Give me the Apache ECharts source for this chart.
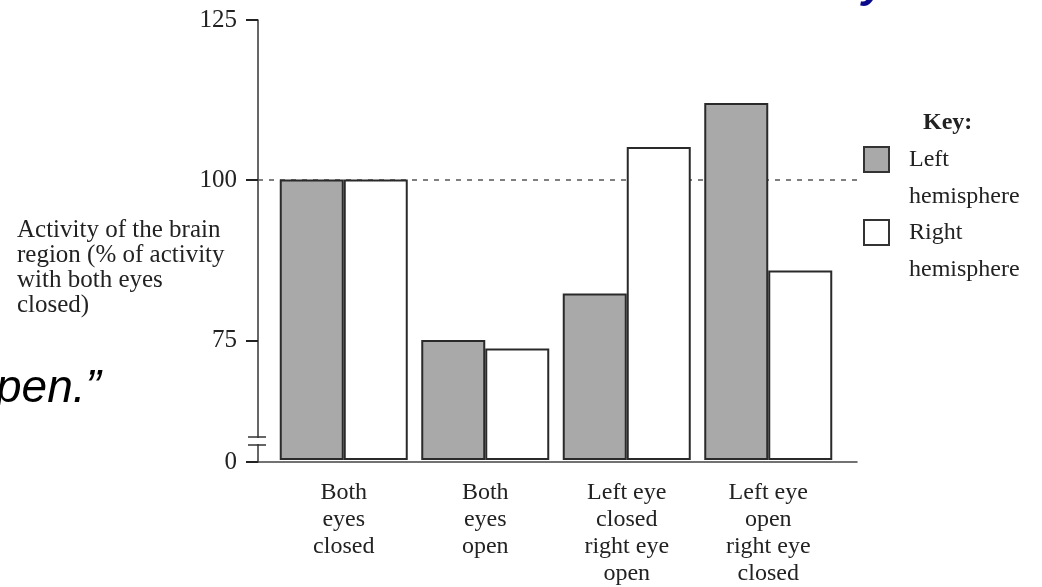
<!DOCTYPE html>
<html>
<head>
<meta charset="utf-8">
<script src="https://cdn.jsdelivr.net/npm/echarts@6/dist/echarts.min.js"></script>
<style>
    html, body { margin: 0; background: #fff; }
    #main { width: 1042px; height: 587px; }
</style>
</head>
<body>
<div id="main"></div>
<script>
    // data
    const categories = ['Both\neyes\nclosed', 'Both\neyes\nopen', 'Left eye\nclosed\nright eye\nopen', 'Left eye\nopen\nright eye\nclosed'];
    const leftHemisphere = [100, 74.8, 82.1, 112];
    const rightHemisphere = [100, 73.5, 105.1, 85.7];
    const yTicks = [56, 75, 100, 125];          // 56 sits at the bottom of the broken axis
    const yTickLabels = ['0', '75', '100', '125'];

    const serif = '"Liberation Serif", "Times New Roman", serif';
    const ink = '#222';
    const gridLeft = 258, gridTop = 20, gridBottom = 125;

    const chart = echarts.init(document.getElementById('main'));
    const option = {
        animation: false,
        title: [{
            text: 'Key:', left: 923, top: 110, padding: 0,
            textStyle: {fontFamily: serif, fontSize: 24, fontWeight: 'bold', color: ink, lineHeight: 26}
        }, {
            text: 'Activity of the brain\nregion (% of activity\nwith both eyes\nclosed)', left: 17, top: 218, padding: 0,
            textStyle: {fontFamily: serif, fontSize: 25, fontWeight: 'normal', color: ink, lineHeight: 25}
        }],
        legend: {
            orient: 'vertical', left: 863, top: 104, padding: 0,
            icon: 'rect', itemWidth: 25, itemHeight: 25, itemGap: -38,
            selectedMode: false,
            itemStyle: {borderColor: '#333', borderWidth: 2},
            // empty first line so the name starts level with the swatch
            formatter: name => '\n' + name.replace(' ', '\n'),
            textStyle: {fontFamily: serif, fontSize: 24, color: ink, lineHeight: 37, padding: [0, 0, 0, 15]},
            data: ['Left hemisphere', 'Right hemisphere']
        },
        grid: [
            // axis frame: y axis, baseline and the 100 reference line
            {left: gridLeft, right: 185, top: gridTop, bottom: gridBottom},
            // bars
            {left: 273, right: 203, top: gridTop, bottom: gridBottom}
        ],
        xAxis: [{
            type: 'category', gridIndex: 0, data: categories,
            axisLine: {show: true, lineStyle: {color: '#444', width: 1.5}},
            axisTick: {show: false}, axisLabel: {show: false}
        }, {
            type: 'category', gridIndex: 1, data: categories,
            axisLine: {show: false}, axisTick: {show: false},
            axisLabel: {
                margin: 19, fontFamily: serif, fontSize: 24, lineHeight: 27, color: ink,
                interval: 0, align: 'center'
            }
        }],
        yAxis: [{
            type: 'value', gridIndex: 0, min: 56, max: 125,
            axisLine: {show: true, lineStyle: {color: '#333', width: 1.5}},
            axisTick: {show: true, length: 12, customValues: yTicks, lineStyle: {color: '#222', width: 2}},
            axisLabel: {
                customValues: yTicks, margin: 21,
                fontFamily: serif, fontSize: 25, color: ink,
                formatter: v => yTickLabels[yTicks.indexOf(v)]
            },
            splitLine: {show: false}
        }, {
            type: 'value', gridIndex: 1, min: 56, max: 125, startValue: 56, show: false
        }],
        graphic: [{
            type: 'text', left: -4, top: 366, z: 10,
            style: {text: 'pen.\u201d', font: 'italic 46px "Liberation Sans", Arial, sans-serif', fill: '#000'}
        }, {
            type: 'text', left: 862, top: -37, z: 10,
            style: {text: 'y', font: 'italic bold 44px "Liberation Sans", Arial, sans-serif', fill: '#0a0a8c'}
        }],
        series: [{
            type: 'line', xAxisIndex: 0, yAxisIndex: 0, data: [], silent: true,
            markLine: {
                silent: true, symbol: 'none', z: 1, label: {show: false},
                lineStyle: {color: '#555', width: 1.5, type: [5, 6]},
                data: [{yAxis: 100}]
            }
        }, {
            name: 'Left hemisphere', type: 'bar', xAxisIndex: 1, yAxisIndex: 1, z: 3,
            barWidth: 64, barGap: '0%',
            itemStyle: {color: '#a9a9a9', borderColor: '#2a2a2a', borderWidth: 2},
            data: leftHemisphere
        }, {
            name: 'Right hemisphere', type: 'bar', xAxisIndex: 1, yAxisIndex: 1, z: 3,
            barWidth: 64, barGap: '0%',
            itemStyle: {color: '#ffffff', borderColor: '#2a2a2a', borderWidth: 2},
            data: rightHemisphere
        }]
    };
    chart.setOption(option);

    // axis break marks just above the baseline
    const y0 = chart.convertToPixel({yAxisIndex: 0}, 56);
    chart.setOption({
        graphic: option.graphic.concat([{
            type: 'rect', z: 20, shape: {x: gridLeft - 3, y: y0 - 24, width: 6, height: 6}, style: {fill: '#fff'}
        }, {
            type: 'line', z: 21, shape: {x1: gridLeft - 10, y1: y0 - 25, x2: gridLeft + 8, y2: y0 - 25},
            style: {stroke: '#333', lineWidth: 1.5}
        }, {
            type: 'line', z: 21, shape: {x1: gridLeft - 10, y1: y0 - 17, x2: gridLeft + 8, y2: y0 - 17},
            style: {stroke: '#333', lineWidth: 1.5}
        }])
    });
</script>
</body>
</html>
